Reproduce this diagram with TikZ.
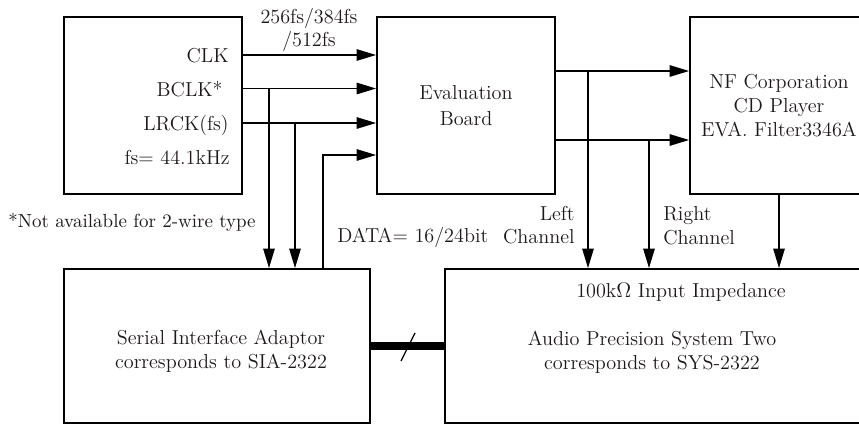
\documentclass[tikz,border=0pt]{standalone}
\usetikzlibrary{arrows.meta}
\begin{document}
\begin{tikzpicture}[x=0.02cm, y=-0.02cm,
    every node/.style={font=\fontsize{11.5}{13.5}\selectfont, text=textColour},
    block/.style={draw=borderColour, line width=1.1pt, minimum width=3.56cm, minimum height=3.54cm, align=center, inner sep=0pt},
    signal/.style={draw=borderColour, line width=0.75pt, -{Triangle[length=11pt, width=6.5pt]}},
    wire/.style={draw=borderColour, line width=0.75pt},
    sigtext/.style={inner sep=0pt}]
    % Define colours
    \definecolor{borderColour}{HTML}{000000}
    \definecolor{textColour}{HTML}{1E1818}

    % Fix page size
    \useasboundingbox (0,0) rectangle (859,425);

    % Draw boxes
    \node[block] (src) at (153,105.5) {};
    \node[block, font=\fontsize{11.5}{14.7}\selectfont] (eval) at (466,105.5) {Evaluation\\Board};
    \node[block] (nf) at (779,105.5) {NF Corporation\\CD Player\\EVA. Filter3346A};
    \node[block, minimum width=6.12cm, minimum height=3.08cm] (sia) at (217,346) {};
    \node[block, minimum width=8.7cm, minimum height=3.08cm] (aps) at (662.5,346) {};

    % Signal names in the source box
    \node[sigtext, anchor=base east] (clk) at (229,62.5) {CLK};
    \node[sigtext, anchor=base east] (bclk) at (223,96.5) {BCLK*};
    \node[sigtext, anchor=base east] (lrck) at (229,130.5) {LRCK(fs)};
    \node[sigtext, anchor=base east] (fs) at (230,164.5) {fs= 44.1kHz};

    % Other labels
    \node[sigtext, align=center] (ratio) at (309,30) {256fs/384fs\\/512fs};
    \node[sigtext, anchor=base west, font=\fontsize{10.8}{13}\selectfont] (note) at (8,228) {*Not available for 2-wire type};
    \node[sigtext, anchor=base west] (data) at (337,243) {DATA= 16/24bit};
    \node[sigtext, anchor=east, align=right] (left) at (575,225) {Left\\Channel};
    \node[sigtext, anchor=west, align=left] (right) at (663,226) {Right\\Channel};
    \node[sigtext, anchor=base] (imp) at (681,298) {100k$\Omega$ Input Impedance};
    \node[sigtext, align=center] (apstext) at (652,352) {Audio Precision System Two\\corresponds to SYS-2322};
    \node[sigtext, align=center] (siatext) at (221,351) {Serial Interface Adaptor\\corresponds to SIA-2322};

    % Line heights and tap points
    \coordinate (yclk) at (0,55);
    \coordinate (tapB) at (269,88.5);
    \coordinate (tapL) at (295,123);
    \coordinate (tapD) at (323,155);
    \coordinate (tapLeft) at (588,71);
    \coordinate (tapRight) at (649,140);

    % Clock and data lines
    \draw[signal] (src.east |- yclk) -- (eval.west |- yclk);
    \draw[signal] (src.east |- tapB) -- (eval.west |- tapB);
    \draw[signal] (tapB) -- (tapB |- sia.north);
    \draw[signal] (src.east |- tapL) -- (eval.west |- tapL);
    \draw[signal] (tapL) -- (tapL |- sia.north);
    \draw[signal] (tapD |- sia.north) |- (eval.west |- tapD);

    % Analog outputs
    \draw[signal] (eval.east |- tapLeft) -- (nf.west |- tapLeft);
    \draw[signal] (tapLeft) -- (tapLeft |- aps.north);
    \draw[signal] (eval.east |- tapRight) -- (nf.west |- tapRight);
    \draw[signal] (tapRight) -- (tapRight |- aps.north);
    \draw[signal] (nf.south) -- (nf.south |- aps.north);

    % Bus between adaptor and analyser
    \draw[draw=borderColour, line width=4.5pt] (sia.east) -- (aps.west);
    \draw[wire] (401,361) -- (415,333);

\end{tikzpicture}
\end{document}
